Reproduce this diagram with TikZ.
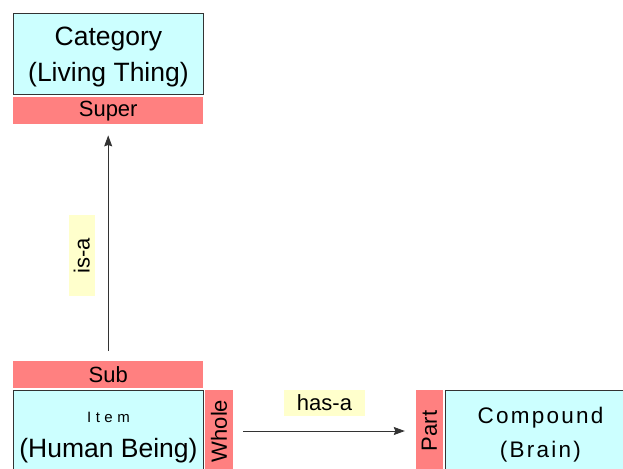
\documentclass[tikz,border=0pt]{standalone}
\usepackage{fontspec}
\setmainfont{Liberation Sans}
\newfontfamily\spacedfont[LetterSpace=10]{Liberation Sans}
\newfontfamily\widefont[LetterSpace=30]{Liberation Sans}
\usetikzlibrary{arrows.meta}
\definecolor{boxcyan}{HTML}{CCFFFF}
\definecolor{rolered}{HTML}{FF8080}
\definecolor{linkyellow}{HTML}{FFFFCC}
\newcommand\padtop[1]{\rule{0pt}{#1}}
\newcommand\padbottom{\rule[-7pt]{0pt}{0pt}}
\tikzset{
  classbox/.style={draw=black!80,fill=boxcyan,line width=0.9pt,align=center,inner sep=0pt,
    minimum width=190pt,minimum height=81pt,anchor=north west,font=\fontsize{26.5}{35.4}\selectfont},
  rolebar/.style={fill=rolered,inner sep=0pt,font=\fontsize{22}{24}\selectfont},
  linklabel/.style={fill=linkyellow,inner sep=0pt,minimum width=81pt,minimum height=26pt,
    font=\fontsize{22}{24}\selectfont},
  linkarrow/.style={draw=black!80,line width=0.9pt,-{Stealth[length=11pt,width=8pt,inset=1.5pt]},
    shorten <=10pt,shorten >=11pt}
}
\begin{document}
\begin{tikzpicture}[x=1pt,y=-1pt]
  \useasboundingbox (0,0) rectangle (623,468);
  \node [classbox] (category) at (13,13) {\padtop{26pt}Category\\(Living Thing)\padbottom};
  \node [rolebar,minimum width=190pt,minimum height=27pt,anchor=north west] (super) at (13,97) {Super};
  \node [rolebar,minimum width=190pt,minimum height=27pt,anchor=north west] (sub) at (13,361) {Sub};
  \node [classbox,minimum height=82pt,font=\fontsize{26.5}{35}\selectfont] (item) at (13,390)
    {\padtop{23.4pt}{\widefont\fontsize{15}{16}\selectfont Item}\\(Human Being)\padbottom};
  \node [rolebar,rotate=90,minimum width=82pt,minimum height=28pt] (whole) at (219,431) {Whole};
  \node [rolebar,rotate=90,minimum width=82pt,minimum height=27pt] (part) at (429.5,431) {Part};
  \node [classbox,minimum height=82pt,font=\spacedfont\fontsize{22.5}{34}\selectfont] (compound) at (445,390)
    {\padtop{25.6pt}Compound\\(Brain)\padbottom};
  \draw [linkarrow] (sub) -- node [linklabel,sloped,above=13pt,pos=0.445] (isa) {is-a} (super);
  \draw [linkarrow] (whole) -- node [linklabel,above=15pt] (hasa) {has-a} (part);
\end{tikzpicture}
\end{document}
